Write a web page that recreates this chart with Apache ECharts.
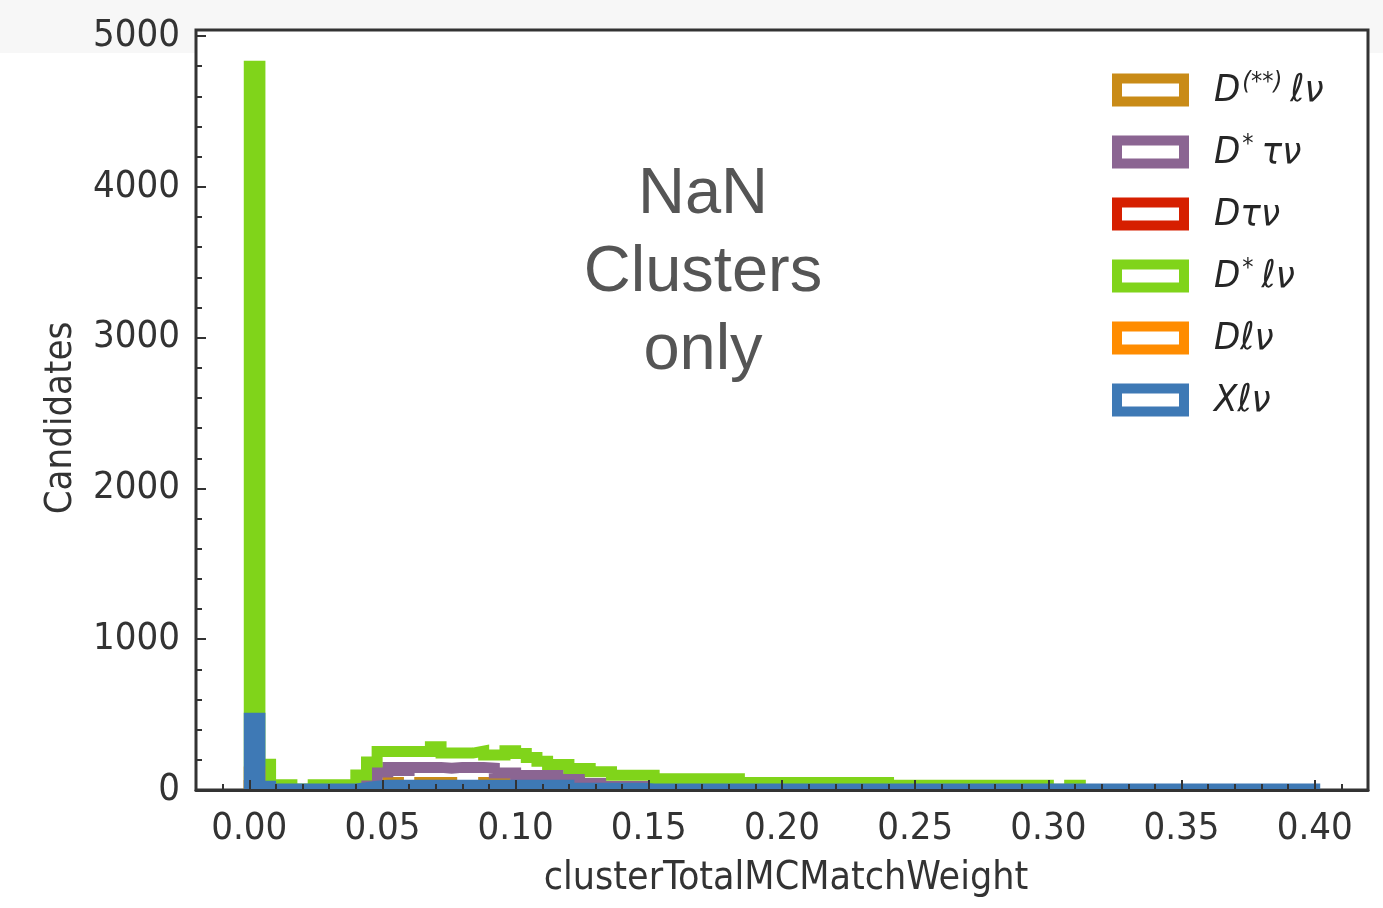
<!DOCTYPE html>
<html>
<head>
<meta charset="utf-8">
<script src="https://cdn.jsdelivr.net/npm/echarts@6/dist/echarts.min.js"></script>
<style>
html,body{margin:0;padding:0;width:1383px;height:908px;overflow:hidden;
background:linear-gradient(to bottom,#f7f7f7 0px,#f7f7f7 53px,#ffffff 53px,#ffffff 100%);}
#chart{width:1383px;height:908px;}
</style>
</head>
<body>
<div id="chart"></div>
<script>
// ---------------- data ----------------
const binEdges = [
 0.000,0.004,0.008,0.012,0.016,0.020,0.024,0.028,0.032,0.036,
 0.040,0.044,0.048,0.052,0.056,0.060,0.064,0.068,0.072,0.076,
 0.080,0.084,0.088,0.092,0.096,0.100,0.104,0.108,0.112,0.116,
 0.120,0.124,0.128,0.132,0.136,0.140,0.144,0.148,0.152,0.156,
 0.160,0.164,0.168,0.172,0.176,0.180,0.184,0.188,0.192,0.196,
 0.200,0.204,0.208,0.212,0.216,0.220,0.224,0.228,0.232,0.236,
 0.240,0.244,0.248,0.252,0.256,0.260,0.264,0.268,0.272,0.276,
 0.280,0.284,0.288,0.292,0.296,0.300,0.304,0.308,0.312,0.316,
 0.320,0.324,0.328,0.332,0.336,0.340,0.344,0.348,0.352,0.356,
 0.360,0.364,0.368,0.372,0.376,0.380,0.384,0.388,0.392,0.396,
 0.400];

// D(**) l nu
const dStarStarLNu = [
 3,3,3,3,3,3,3,3,3,3,
 3,3,20,50,25,25,50,50,50,25,
 25,25,50,50,25,15,15,15,15,15,
 15,15,15,15,15,15,15,3,3,3,
 3,3,3,3,3,3,3,3,3,3,
 3,3,3,3,3,3,3,3,3,3,
 3,3,3,3,3,3,3,3,3,3,
 3,3,3,3,3,3,3,3,3,3,
 3,3,3,3,3,3,3,3,3,3,
 3,3,3,3,3,3,3,3,3,3];
// D* tau nu
const dStarTauNu = [
 3,3,3,3,3,3,3,3,3,3,
 3,36,120,150,130,150,150,150,145,150,
 150,150,145,113,113,96,96,96,96,72,
 72,43,43,23,23,23,23,4,4,4,
 4,4,4,4,4,4,4,4,4,4,
 4,4,4,4,4,4,4,4,4,4,
 4,4,4,4,4,4,4,4,4,4,
 4,4,4,4,4,4,4,4,4,4,
 4,4,4,4,4,4,4,4,4,4,
 4,4,4,4,4,4,4,4,4,4];
// D tau nu
const dTauNu = [
 30,2,2,2,2,2,2,2,2,2,
 3,3,3,3,3,3,3,3,3,3,
 3,3,3,3,3,3,3,3,3,3,
 3,3,3,3,3,3,3,3,3,3,
 3,1,1,1,1,1,1,1,1,1,
 1,1,1,1,1,1,1,1,1,1,
 1,1,1,1,1,1,1,1,1,1,
 1,1,1,1,1,1,1,1,1,1,
 1,1,1,1,1,1,1,1,1,1,
 1,1,1,1,1,1,1,1,1,1];
// D* l nu
const dStarLNu = [
 4800,170,35,35,7,7,35,35,35,35,
 100,186,255,255,255,255,255,287,245,245,
 245,258,232,232,260,242,215,190,169,169,
 143,143,121,121,97,97,97,97,74,74,
 74,74,74,74,74,74,50,50,50,50,
 50,50,50,50,50,50,50,50,50,50,
 31,31,31,31,31,31,31,31,31,31,
 31,31,31,31,31,5,5,31,0,0,
 0,0,0,0,0,0,0,0,0,0,
 0,0,0,0,0,0,0,0,0,0];
// D l nu
const dLNu = [
 120,5,3,3,3,3,3,3,3,3,
 8,8,15,15,15,15,15,15,15,15,
 15,15,15,15,15,15,15,15,15,15,
 5,5,5,5,5,5,5,2,2,2,
 2,2,2,2,2,2,2,2,2,2,
 2,2,2,2,2,2,2,2,2,2,
 2,2,2,2,2,2,2,2,2,2,
 2,2,2,2,2,2,2,2,2,2,
 2,2,2,2,2,2,2,2,2,2,
 2,2,2,2,2,2,2,2,2,2];
// X l nu
const xLNu = [
 475,25,7,7,7,7,7,7,7,7,
 15,25,32,32,32,32,32,32,32,32,
 32,32,32,32,32,32,32,32,32,32,
 12,12,12,12,12,12,12,6,6,6,
 6,6,6,6,6,6,6,6,6,6,
 6,6,6,6,6,6,6,6,6,6,
 6,6,6,6,6,6,6,6,6,6,
 6,6,6,6,6,6,6,6,6,6,
 6,6,6,6,6,6,6,6,6,6,
 6,6,6,6,6,6,6,6,6,6];

const seriesNames = ['D(**)ℓν','D*τν','Dτν','D*ℓν','Dℓν','Xℓν'];
const seriesValues = [dStarStarLNu, dStarTauNu, dTauNu, dStarLNu, dLNu, xLNu];
const seriesColors = ['#c98b17','#8b6592','#d61f00','#80d41a','#ff8c00','#3e79b5'];

const xTickValues = [0,0.05,0.10,0.15,0.20,0.25,0.30,0.35,0.40];
const yTickValues = [0,1000,2000,3000,4000,5000];
const xMinorValues = [];
for (let k = -1; k <= 41; k++) { if (k % 5 !== 0) xMinorValues.push(+(k*0.01).toFixed(2)); }
const yMinorValues = [];
for (let v = 200; v <= 5000; v += 200) { if (v % 1000 !== 0) yMinorValues.push(v); }

// ---------------- chart ----------------
const FONT = "'DejaVu Sans Condensed', 'DejaVu Sans', sans-serif";
const GRID = {left: 196, right: 15, top: 30, bottom: 118};

function stepPoints(counts) {
  const pts = [[binEdges[0], 0]];
  for (let i = 0; i < counts.length; i++) {
    pts.push([binEdges[i], counts[i]]);
    pts.push([binEdges[i + 1], counts[i]]);
  }
  pts.push([binEdges[counts.length], 0]);
  return pts;
}

const legendRich = {
  sp: {width: 25},
  m: {fontFamily: FONT, fontStyle: 'italic', fontSize: 38, color: '#262626', lineHeight: 40, verticalAlign: 'bottom'},
  sup: {fontFamily: FONT, fontStyle: 'italic', fontSize: 25, color: '#262626', lineHeight: 40, verticalAlign: 'top', padding: [0, 8, 0, 2]}
};
const legendFormat = {
  'D(**)ℓν': '{sp|}{m|D}{sup|(**)}{m|ℓν}',
  'D*τν': '{sp|}{m|D}{sup|*}{m|τν}',
  'Dτν': '{sp|}{m|Dτν}',
  'D*ℓν': '{sp|}{m|D}{sup|*}{m|ℓν}',
  'Dℓν': '{sp|}{m|Dℓν}',
  'Xℓν': '{sp|}{m|Xℓν}'
};

const chart = echarts.init(document.getElementById('chart'), null, {renderer: 'canvas'});
const option = {
  animation: false,
  grid: {left: GRID.left, right: GRID.right, top: GRID.top, bottom: GRID.bottom, show: true,
         backgroundColor: '#ffffff', borderColor: '#333333', borderWidth: 3},
  xAxis: [{
    type: 'value', min: -0.02, max: 0.42, position: 'bottom', z: 20,
    axisLine: {show: true, onZero: false, lineStyle: {color: '#333333', width: 3}},
    splitLine: {show: false},
    axisTick: {inside: true, length: 10, customValues: xTickValues, lineStyle: {color: '#333', width: 2}},
    axisLabel: {customValues: xTickValues, formatter: v => v.toFixed(2), margin: 20,
                fontSize: 38, color: '#333', fontFamily: FONT},
    name: 'clusterTotalMCMatchWeight', nameLocation: 'middle', nameGap: 69,
    nameTextStyle: {fontSize: 39, color: '#333', fontFamily: FONT, padding: [0, 0, 0, 8]}
  }, {
    type: 'value', min: -0.02, max: 0.42, position: 'bottom', offset: 0, z: 20,
    axisLine: {show: false, onZero: false}, splitLine: {show: false}, axisLabel: {show: false},
    axisTick: {inside: true, length: 6, customValues: xMinorValues, lineStyle: {color: '#333', width: 2}}
  }],
  yAxis: [{
    type: 'value', min: 0, max: 5040, position: 'left', z: 20,
    axisLine: {show: false, onZero: false}, splitLine: {show: false},
    axisTick: {inside: true, length: 10, customValues: yTickValues, lineStyle: {color: '#333', width: 2}},
    axisLabel: {customValues: yTickValues, formatter: v => String(v), margin: 16,
                fontSize: 38, color: '#333', fontFamily: FONT},
    name: 'Candidates', nameLocation: 'middle', nameGap: 116,
    nameTextStyle: {fontSize: 38, color: '#333', fontFamily: FONT, padding: [0, 16, 0, 0]}
  }, {
    type: 'value', min: 0, max: 5040, position: 'left', offset: 0, z: 20,
    axisLine: {show: false, onZero: false}, splitLine: {show: false}, axisLabel: {show: false},
    axisTick: {inside: true, length: 6, customValues: yMinorValues, lineStyle: {color: '#333', width: 2}}
  }],
  legend: {
    orient: 'vertical', left: 1107, top: 65, itemGap: 22,
    itemWidth: 67, itemHeight: 23, selectedMode: false,
    data: seriesNames.map((n, i) => ({
      name: n, icon: 'rect',
      itemStyle: {color: '#ffffff', borderColor: seriesColors[i], borderWidth: 10}
    })),
    formatter: n => legendFormat[n],
    textStyle: {rich: legendRich, fontSize: 38, lineHeight: 40}
  },
  graphic: [{
    // white strip below the plot frame so the thick step lines are cut at the axis
    type: 'rect', z: 10, silent: true,
    shape: {x: 150, y: 791.5, width: 1233, height: 9},
    style: {fill: '#ffffff'}
  }, {
    type: 'text', x: 703, y: 273, z: 100,
    style: {text: 'NaN\nClusters\nonly', fontSize: 65, fontFamily: "'Liberation Sans', Arial, sans-serif",
            fill: '#555555', align: 'center', verticalAlign: 'middle', lineHeight: 78}
  }],
  series: seriesValues.map((vals, i) => ({
    name: seriesNames[i], type: 'line', xAxisIndex: 0, yAxisIndex: 0,
    data: stepPoints(vals), showSymbol: false, symbol: 'none', clip: true,
    lineStyle: {color: seriesColors[i], width: 11, join: 'miter', cap: 'butt'},
    itemStyle: {color: seriesColors[i]}, z: 2 + i * 0.1
  }))
};
chart.setOption(option);
</script>
</body>
</html>
